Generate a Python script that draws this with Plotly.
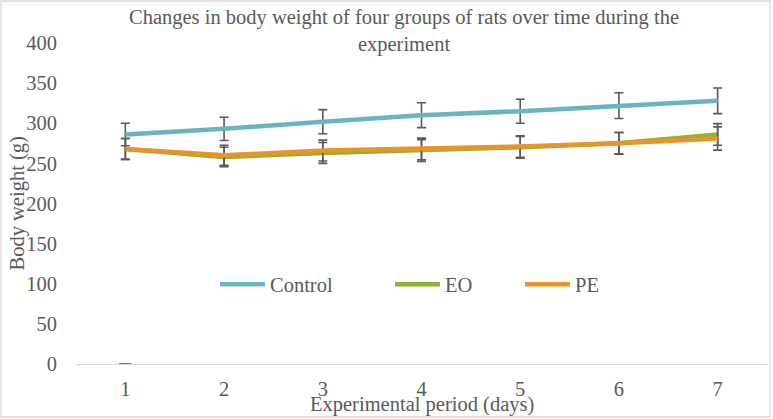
import plotly.graph_objects as go

# data
days = [1, 2, 3, 4, 5, 6, 7]
control = [286, 293, 302, 310, 315, 322, 328]
control_err = [14, 14.5, 15, 15.5, 15, 16, 16]
eo = [268, 258, 263, 266, 270, 275, 286]
eo_err = [13, 12, 13, 13.5, 13.5, 13.5, 13.5]
pe = [268, 260, 266, 268, 271, 275, 281]
pe_err = [13, 12.5, 13, 13.5, 13.5, 13.5, 14.5]
# fourth group shows only a stray cap at day 1, value 0
group4_days = [1]
group4 = [0]

font_name = "Times New Roman, Liberation Serif, serif"
fs = 20.5
grey = "#595959"

W, H = 773, 419
L, R, T, B = 76, 6, 43, 55
pw = W - L - R
ph = H - T - B

fig = go.Figure()

series = [
    ("Control", control, control_err, "#6AB3BF", "legend", 221),
    ("EO", eo, eo_err, "#93B22C", "legend2", 396),
    ("PE", pe, pe_err, "#E8942B", "legend3", 526),
]
for name, vals, err, col, leg, _ in series:
    fig.add_trace(go.Scatter(
        x=days, y=vals, name=name, mode="lines", legend=leg,
        line=dict(color=col, width=4.5),
        error_y=dict(type="data", array=err, visible=True,
                     color=grey, thickness=1.6, width=4.5),
    ))

fig.add_trace(go.Scatter(
    x=group4_days, y=group4, mode="markers", showlegend=False,
    marker=dict(symbol="line-ew", size=9, line=dict(color=grey, width=1.6)),
    hoverinfo="skip",
))

leg_y = (364.5 - 285) / ph


def legend_at(px):
    return dict(
        x=(px - 6 - L) / pw, xanchor="left", y=leg_y, yanchor="middle",
        bgcolor="rgba(0,0,0,0)", itemwidth=45,
        font=dict(family=font_name, size=fs, color=grey),
    )


fig.update_layout(
    width=W, height=H,
    margin=dict(l=L, r=R, t=T, b=B),
    paper_bgcolor="white", plot_bgcolor="white",
    font=dict(family=font_name, size=fs, color=grey),
    showlegend=True,
    legend=legend_at(series[0][5]),
    legend2=legend_at(series[1][5]),
    legend3=legend_at(series[2][5]),
    xaxis=dict(
        range=[0.5, 7.5], tickvals=days, ticktext=[str(d) for d in days],
        showgrid=False, zeroline=False,
        showline=True, linecolor="#D9D9D9", linewidth=1.3,
        ticks="", ticklabelstandoff=6,
        tickfont=dict(family=font_name, size=fs, color=grey),
    ),
    yaxis=dict(
        range=[0, 400], dtick=50,
        showgrid=False, zeroline=False, showline=False,
        ticks="", ticklabelstandoff=18,
        tickfont=dict(family=font_name, size=fs, color=grey),
    ),
    annotations=[
        dict(text="Changes in body weight of four groups of rats over time during the<br>experiment",
             xref="paper", yref="paper", x=(404 - L) / pw, y=1 + (T - 4) / ph,
             xanchor="center", yanchor="top", showarrow=False, align="center",
             font=dict(family=font_name, size=fs, color=grey)),
        dict(text="Body weight (g)", textangle=-90,
             xref="paper", yref="paper", x=(17 - L) / pw, y=0.5,
             xanchor="center", yanchor="middle", showarrow=False,
             font=dict(family=font_name, size=fs, color=grey)),
        dict(text="Experimental period (days)",
             xref="paper", yref="paper", x=0.5, y=-(405 - 364.5) / ph,
             xanchor="center", yanchor="middle", showarrow=False,
             font=dict(family=font_name, size=fs, color=grey)),
    ],
    shapes=[
        dict(type="rect", xref="paper", yref="paper",
             x0=(1 - L) / pw, x1=(770 - L) / pw,
             y0=-(417 - T - ph) / ph, y1=1 + (T - 1) / ph,
             line=dict(color="#D9D9D9", width=1.3), layer="below"),
    ],
)

fig.write_html("out.html", config={"displayModeBar": False},
               post_script="document.body.style.margin='0';")
